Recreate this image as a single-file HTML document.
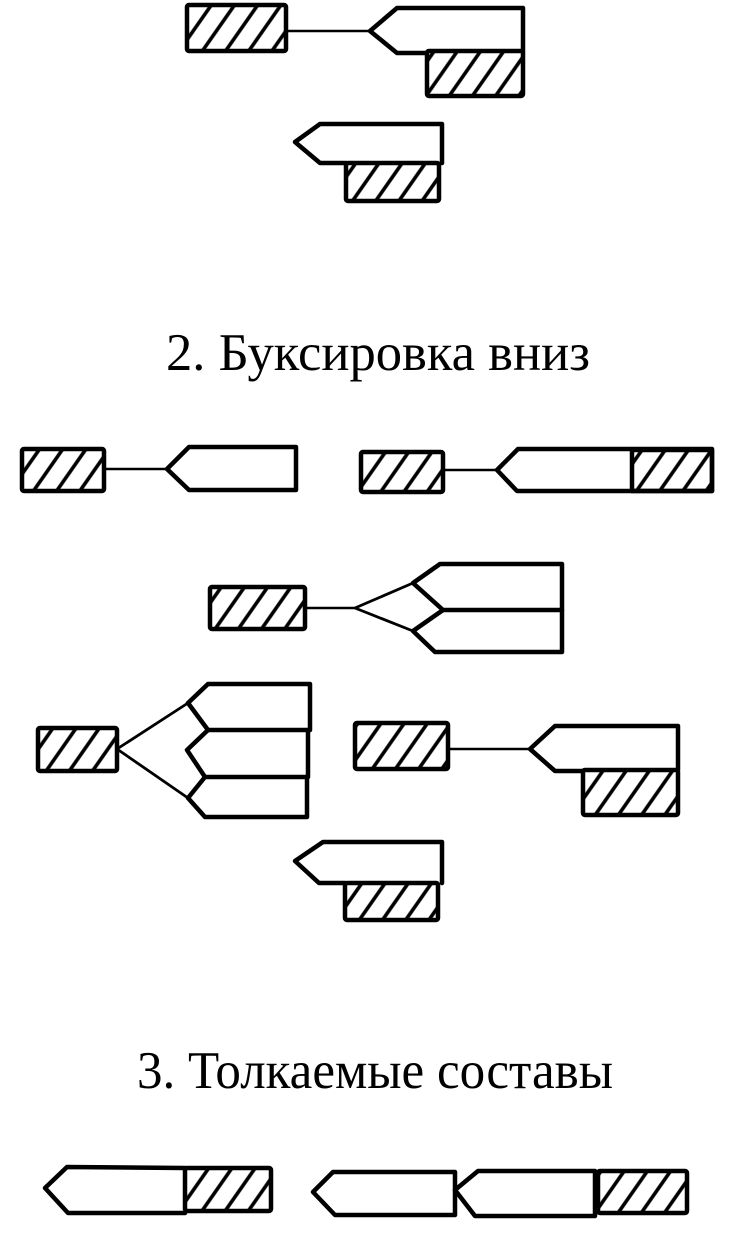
<!DOCTYPE html>
<html>
<head>
<meta charset="utf-8">
<style>
html,body{margin:0;padding:0;background:#fff;}
svg{display:block;}
text{font-family:"Liberation Serif","Noto Serif CJK SC",serif;fill:#000;}
</style>
</head>
<body>
<svg width="734" height="1237" viewBox="0 0 734 1237" xmlns="http://www.w3.org/2000/svg">
<defs>
<pattern id="h" patternUnits="userSpaceOnUse" width="19" height="19" patternTransform="rotate(35)">
<rect width="19" height="19" fill="#fff"/>
<line x1="5" y1="-2" x2="5" y2="21" stroke="#000" stroke-width="3.6"/>
</pattern>
</defs>
<g fill="none" stroke="#000" stroke-linejoin="round" stroke-linecap="round">

<!-- Top group 1 -->
<rect x="187" y="5" width="99" height="46" rx="2" fill="url(#h)" stroke-width="4.5"/>
<line x1="286" y1="31" x2="370" y2="31" stroke-width="2.4"/>
<path d="M427,53 L397,53 L370,31 L397,8 L523,8 L523,52" stroke-width="4.5"/>
<rect x="427" y="51" width="96" height="45" rx="2" fill="url(#h)" stroke-width="4.5"/>

<!-- Top group 2 -->
<path d="M346,163 L320,163 L295,142 L320,124 L442,124 L442,163" stroke-width="4.5"/>
<rect x="346" y="163" width="93" height="38" rx="2" fill="url(#h)" stroke-width="4.5"/>

<!-- Row 1 left -->
<rect x="22" y="449" width="82" height="42" rx="2" fill="url(#h)" stroke-width="4.5"/>
<line x1="104" y1="469" x2="167" y2="469" stroke-width="2.4"/>
<path d="M167,469 L189,447 L296,447 L296,490 L189,490 Z" stroke-width="4.5"/>

<!-- Row 1 right -->
<rect x="361" y="452" width="82" height="40" rx="2" fill="url(#h)" stroke-width="4.5"/>
<line x1="443" y1="470" x2="497" y2="470" stroke-width="2.4"/>
<rect x="632" y="450" width="80" height="41" fill="url(#h)" stroke-width="4.5"/>
<path d="M497,470 L518,449 L712,449 L712,491 L517,491 Z" stroke-width="4.5"/>

<!-- Row 2 -->
<rect x="210" y="587" width="95" height="42" rx="2" fill="url(#h)" stroke-width="4.5"/>
<line x1="305" y1="608" x2="355" y2="608" stroke-width="2.4"/>
<path d="M413,583 L355,608 L413,631" stroke-width="2.8"/>
<path d="M413,583 L440,564 L562,564 L562,610 L443,610 Z" stroke-width="4.5"/>
<path d="M443,610 L413,631 L435,652 L562,652 L562,610" stroke-width="4.5"/>

<!-- Row 3 left -->
<rect x="38" y="728" width="79" height="43" rx="2" fill="url(#h)" stroke-width="4.5"/>
<path d="M188,703 L117,749 L188,798" stroke-width="2.8"/>
<path d="M188,703 L208,684 L310,684 L310,730 L208,730 Z" stroke-width="4.5"/>
<path d="M208,730 L187,750 L205,777 L308,777 L308,730" stroke-width="4.5"/>
<path d="M205,777 L188,798 L205,817 L307,817 L307,777" stroke-width="4.5"/>

<!-- Row 3 right -->
<rect x="355" y="723" width="93" height="46" rx="2" fill="url(#h)" stroke-width="4.5"/>
<line x1="448" y1="749" x2="530" y2="749" stroke-width="2.4"/>
<path d="M583,771 L555,771 L530,749 L555,726 L678,726 L678,770" stroke-width="4.5"/>
<rect x="583" y="770" width="95" height="45" rx="2" fill="url(#h)" stroke-width="4.5"/>

<!-- Row 4 -->
<path d="M345,883 L319,883 L295,861 L323,842 L442,842 L442,883" stroke-width="4.5"/>
<rect x="345" y="883" width="93" height="37" rx="2" fill="url(#h)" stroke-width="4.5"/>

<!-- Bottom left -->
<path d="M185,1213 L68,1213 L45,1188 L67,1167 L185,1168" stroke-width="4.5"/>
<rect x="185" y="1168" width="86" height="43" rx="2" fill="url(#h)" stroke-width="4.5"/>

<!-- Bottom right -->
<path d="M313,1192 L333,1172 L455,1172 L455,1215 L335,1215 Z" stroke-width="4.5"/>
<path d="M455,1190 L478,1171 L595,1171 L595,1216 L475,1216 Z" stroke-width="4.5"/>
<rect x="598" y="1171" width="89" height="42" rx="2" fill="url(#h)" stroke-width="4.5"/>
</g>

<text x="166" y="370" font-size="53" textLength="424" lengthAdjust="spacingAndGlyphs">2. Буксировка вниз</text>
<text x="137" y="1088" font-size="53" textLength="476" lengthAdjust="spacingAndGlyphs">3. Толкаемые составы</text>
</svg>
</body>
</html>
